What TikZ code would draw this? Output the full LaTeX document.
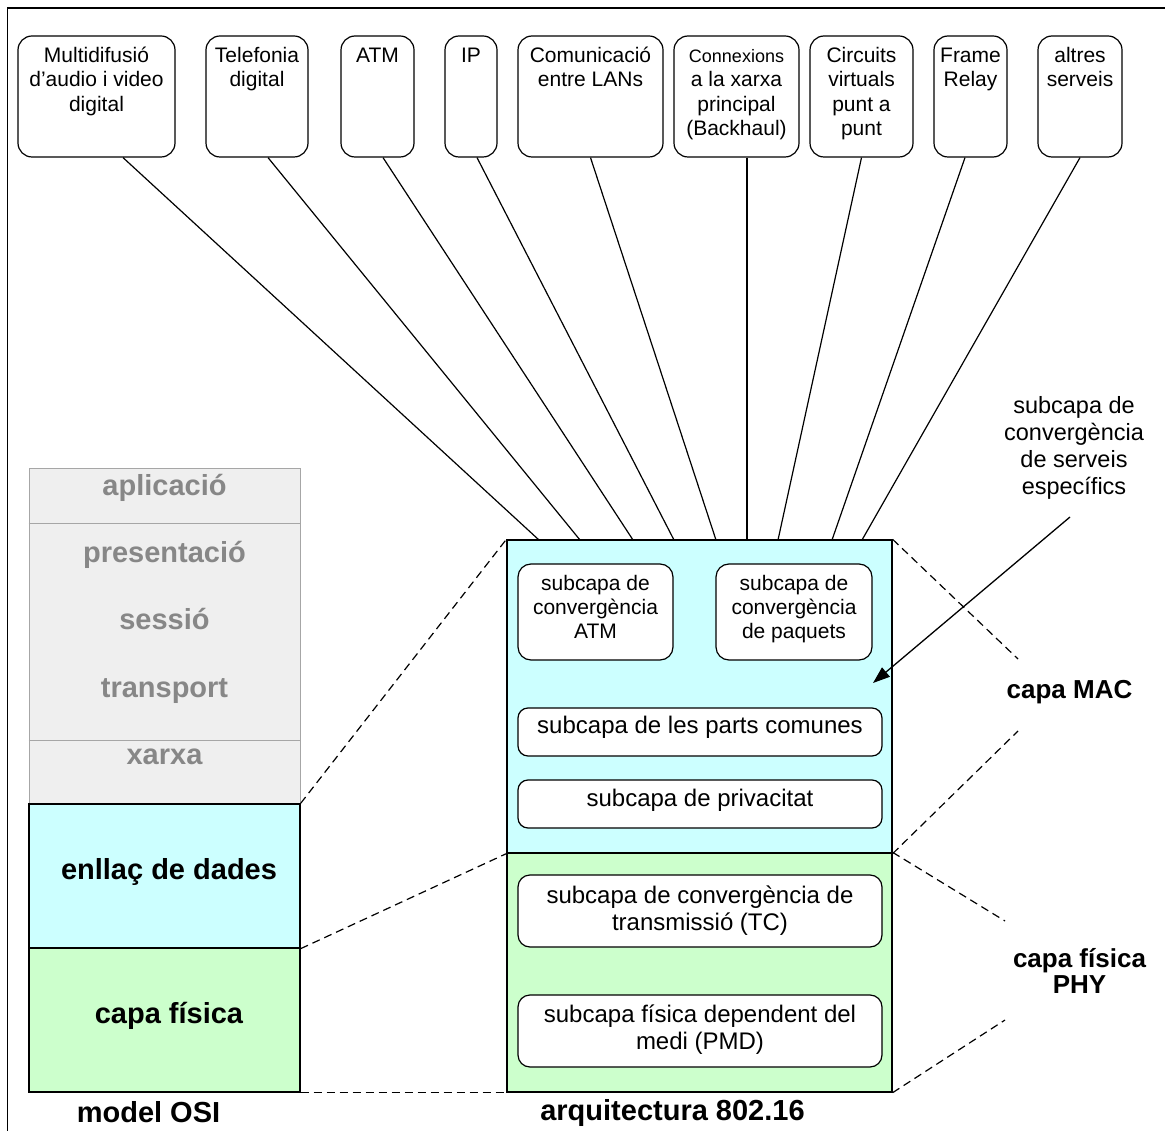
\documentclass[tikz,border=0pt]{standalone}
\usepackage{fontspec}
\setmainfont{Liberation Sans}
\usetikzlibrary{arrows.meta}
\definecolor{maccol}{HTML}{CCFFFF}
\definecolor{phycol}{HTML}{CCFFCC}
\definecolor{osifill}{HTML}{EFEFEF}
\definecolor{osiedge}{HTML}{A6A6A6}
\definecolor{ositext}{HTML}{878787}
\begin{document}
\begin{tikzpicture}[x=1pt,y=-1pt,
  svcbox/.style={draw, line width=1.2pt, rounded corners=14pt, inner sep=0pt, minimum height=121pt},
  svctext/.style={anchor=north, inner sep=0pt, align=center, font=\fontsize{21}{24.5}\selectfont},
  svcline/.style={line width=1.2pt},
  layer/.style={draw, line width=1.3pt, inner sep=0pt},
  subbox/.style={draw, line width=1.2pt, fill=white, inner sep=0pt},
  subsmall/.style={anchor=north, inner sep=0pt, align=center, font=\fontsize{21}{24}\selectfont},
  subwide/.style={inner sep=0pt, align=center, font=\fontsize{24}{27}\selectfont},
  osilbl/.style={anchor=base, inner sep=0pt, text=ositext, font=\fontsize{29}{32}\selectfont\bfseries},
  biglbl/.style={anchor=base, inner sep=0pt, font=\fontsize{29}{32}\selectfont\bfseries},
  sidelbl/.style={inner sep=0pt, align=center, font=\fontsize{26}{26}\selectfont\bfseries},
  guide/.style={dashed, dash pattern=on 8pt off 5pt, line width=1.2pt}
]
\useasboundingbox (0,0) rectangle (1165,1131);

% outer frame (only the top and left sides fall inside the page)
\draw[line width=1.6pt] (7.5,1131) -- (7.5,8) -- (1165,8);

% service boxes along the top
\node[svcbox, minimum width=157pt] (b1) at (96.5,96.5) {};
\node[svcbox, minimum width=102pt] (b2) at (257,96.5) {};
\node[svcbox, minimum width=73pt]  (b3) at (377.5,96.5) {};
\node[svcbox, minimum width=52pt]  (b4) at (471,96.5) {};
\node[svcbox, minimum width=145pt] (b5) at (590.5,96.5) {};
\node[svcbox, minimum width=125pt] (b6) at (736.5,96.5) {};
\node[svcbox, minimum width=103pt] (b7) at (861.5,96.5) {};
\node[svcbox, minimum width=73pt]  (b8) at (970.5,96.5) {};
\node[svcbox, minimum width=84pt]  (b9) at (1080,96.5) {};

\node[svctext] (t1) at (96.5,44.85) {\strut Multidifusió\\d’audio i video\\digital};
\node[svctext] (t2) at (257,44.85) {\strut Telefonia\\digital};
\node[svctext] (t3) at (377.5,44.85) {\strut ATM};
\node[svctext] (t4) at (471,44.85) {\strut IP};
\node[svctext] (t5) at (590.5,44.85) {\strut Comunicació\\entre LANs};
\node[svctext] (t6) at (736.5,44.85) {\strut{\fontsize{18}{24.5}\selectfont Connexions}\\a la xarxa\\principal\\(Backhaul)};
\node[svctext] (t7) at (861.5,44.85) {\strut Circuits\\virtuals\\punt a\\punt};
\node[svctext] (t8) at (970.5,44.85) {\strut Frame\\Relay};
\node[svctext] (t9) at (1080,44.85) {\strut altres\\serveis};

% points where the services meet the MAC layer
\coordinate (m1) at (539,540);
\coordinate (m2) at (580,540);
\coordinate (m3) at (633,540);
\coordinate (m4) at (674,540);
\coordinate (m5) at (716,540);
\coordinate (m6) at (747,540);
\coordinate (m7) at (778,540);
\coordinate (m8) at (832,540);
\coordinate (m9) at (862,540);

\draw[svcline] ([xshift=26.5pt]b1.south) -- (m1);
\draw[svcline] ([xshift=11pt]b2.south) -- (m2);
\draw[svcline] ([xshift=5.5pt]b3.south) -- (m3);
\draw[svcline] ([xshift=6pt]b4.south) -- (m4);
\draw[svcline] (b5.south) -- (m5);
\draw[svcline] ([xshift=10.5pt]b6.south) -- (m6);
\draw[svcline] (b7.south) -- (m7);
\draw[svcline] ([xshift=-5.5pt]b8.south) -- (m8);
\draw[svcline] (b9.south) -- (m9);

% OSI model stack
\node[draw=osiedge, fill=osifill, line width=1pt, inner sep=0pt,
      minimum width=271pt, minimum height=336pt] (osiup) at (164.5,636) {};
\draw[osiedge, line width=1pt] ([yshift=-56pt]osiup.north west) -- ([yshift=-56pt]osiup.north east);
\draw[osiedge, line width=1pt] ([yshift=-273pt]osiup.north west) -- ([yshift=-273pt]osiup.north east);
\node[layer, fill=maccol, minimum width=271pt, minimum height=144pt] (osidl) at (164.5,876) {};
\node[layer, fill=phycol, minimum width=271pt, minimum height=144pt] (osiph) at (164.5,1020) {};

\node[osilbl] (l1) at (164.5,495) {aplicació};
\node[osilbl] (l2) at (164.5,562) {presentació};
\node[osilbl] (l3) at (164.5,629.5) {sessió};
\node[osilbl] (l4) at (164.5,697) {transport};
\node[osilbl] (l5) at (164.5,764) {xarxa};
\node[biglbl] (l6) at (169,879) {enllaç de dades};
\node[biglbl] (l7) at (169,1023) {capa física};
\node[biglbl] (l8) at (148.5,1122) {model OSI};

% IEEE 802.16 stack
\node[layer, fill=maccol, minimum width=385pt, minimum height=313pt] (mac) at (699.5,696.5) {};
\node[layer, fill=phycol, minimum width=385pt, minimum height=239pt] (phy) at (699.5,972.5) {};

\node[subbox, rounded corners=13pt, minimum width=155pt, minimum height=96pt] (atmcs) at (595.5,612) {};
\node[subbox, rounded corners=13pt, minimum width=156pt, minimum height=96pt] (pktcs) at (794,612) {};
\node[subbox, rounded corners=10pt, minimum width=364pt, minimum height=48pt] (cps) at (700,732) {};
\node[subbox, rounded corners=10pt, minimum width=364pt, minimum height=48pt] (priv) at (700,804) {};
\node[subbox, rounded corners=12pt, minimum width=364pt, minimum height=72pt] (tc) at (700,911) {};
\node[subbox, rounded corners=12pt, minimum width=364pt, minimum height=72pt] (pmd) at (700,1031) {};

\node[subsmall] (s1) at (595.5,573.2) {\strut subcapa de\\convergència\\ATM};
\node[subsmall] (s2) at (794,573.2) {\strut subcapa de\\convergència\\de paquets};
\node[subwide, anchor=base] (s3) at (700,733) {subcapa de les parts comunes};
\node[subwide, anchor=base] (s4) at (700,806) {subcapa de privacitat};
\node[subwide, anchor=north] (s5) at (700,884.1) {\strut subcapa de convergència de\\transmissió (TC)};
\node[subwide, anchor=north] (s6) at (700,1003.1) {\strut subcapa física dependent del\\medi (PMD)};
\node[biglbl] (l9) at (672.5,1120) {arquitectura 802.16};

% dashed correspondences between the two stacks
\draw[guide] (osidl.north east) -- (mac.north west);
\draw[guide] (osidl.south east) -- (mac.south west);
\draw[guide] (osiph.south east) -- (phy.south west);

% dashed brackets towards the layer names
\coordinate (d1) at (1018,659);
\coordinate (d2) at (1018,731);
\coordinate (d3) at (1005,921);
\coordinate (d4) at (1005,1020);
\draw[guide] (mac.north east) -- (d1);
\draw[guide] (mac.south east) -- (d2);
\draw[guide] (phy.north east) -- (d3);
\draw[guide] (phy.south east) -- (d4);

\node[sidelbl, anchor=base] (macl) at (1069.5,698) {capa MAC};
\node[sidelbl, anchor=north, font=\fontsize{26}{26}\selectfont\bfseries] (phyl) at (1079.5,947.8) {\strut capa física\\PHY};

% service-specific convergence sublayer callout
\node[anchor=north, inner sep=0pt, align=center, font=\fontsize{23.5}{27}\selectfont] (cs) at (1074,394.1)
  {\strut subcapa de\\convergència\\de serveis\\específics};
\coordinate (arrs) at (1070,517);
\coordinate (arre) at (873,683);
\draw[line width=1.3pt, -{Triangle[length=17pt,width=12pt]}] (arrs) -- (arre);
\end{tikzpicture}
\end{document}
